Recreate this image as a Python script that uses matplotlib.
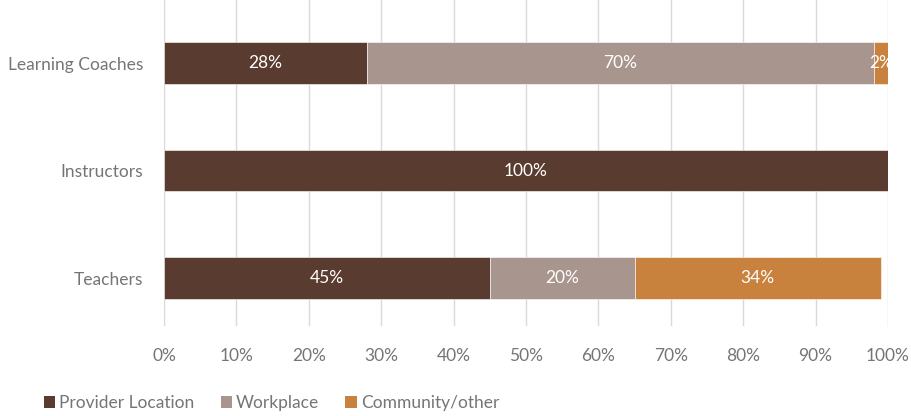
import matplotlib
matplotlib.use("Agg")
import matplotlib.pyplot as plt
from matplotlib.patches import Patch

categories = ["Teachers", "Instructors", "Learning Coaches"]
series_names = ["Provider Location", "Workplace", "Community/other"]
provider = [45, 100, 28]
workplace = [20, 0, 70]
community = [34, 0, 2]
colors = ["#5a3b2f", "#a8958e", "#c9823d"]
xticks = list(range(0, 101, 10))

plt.rcParams["font.family"] = ["Lato", "DejaVu Sans"]

fig = plt.figure(figsize=(9.12, 4.16), dpi=100)
ax = fig.add_axes([164 / 912, 90 / 416, 724 / 912, 326 / 416])

label_color = "#757575"
y = list(range(len(categories)))
left = [0] * len(categories)
for vals, col in zip([provider, workplace, community], colors):
    ax.barh(y, vals, left=left, height=0.39, color=col,
            edgecolor="white", linewidth=0.4, zorder=3)
    for yi, v, l in zip(y, vals, left):
        if v > 0:
            ax.text(l + v / 2, yi, f"{v}%", ha="center", va="center",
                    color="white", fontsize=12.5, zorder=4)
    left = [a + b for a, b in zip(left, vals)]

ax.set_xlim(0, 100)
ax.set_ylim(-0.446, 2.586)
ax.set_yticks(y)
ax.set_yticklabels(categories)
ax.set_xticks(xticks)
ax.set_xticklabels([f"{t}%" for t in xticks])
ax.tick_params(axis="both", length=0, labelsize=12.5, labelcolor=label_color)
ax.tick_params(axis="x", pad=16)
ax.tick_params(axis="y", pad=15)
ax.grid(axis="x", color="#d9d9d9", linewidth=1, zorder=0)
for s in ax.spines.values():
    s.set_visible(False)

handles = [Patch(facecolor=c, edgecolor="none") for c in colors]
fig.legend(handles, series_names, loc="center left", bbox_to_anchor=(28 / 912, 1 - 403 / 416),
           ncol=3, frameon=False, fontsize=12.5, handlelength=0.65, handleheight=0.65,
           handletextpad=0.25, columnspacing=1.5, labelcolor=label_color)

fig.savefig("out.png", dpi=100)
